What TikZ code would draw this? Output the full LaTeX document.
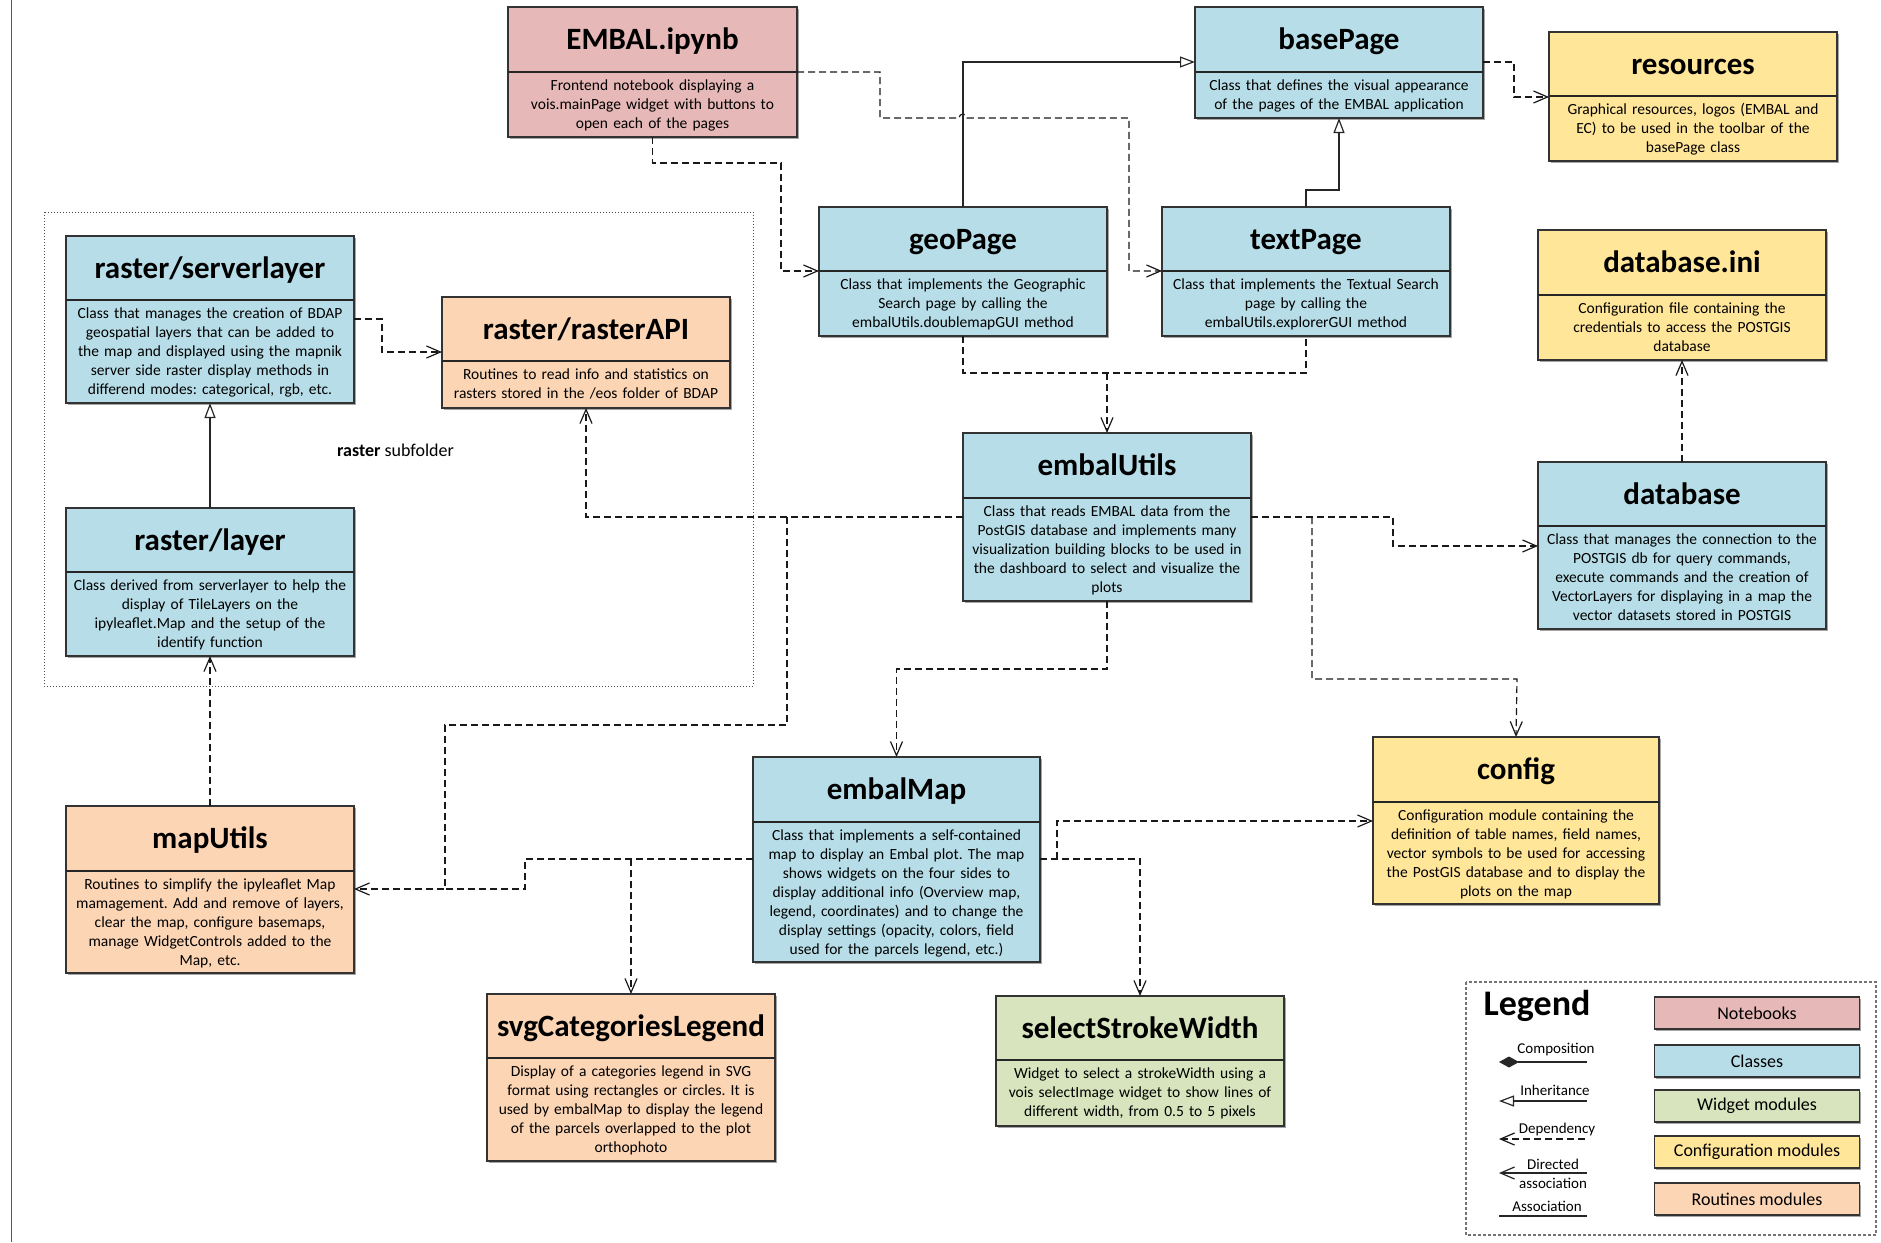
\documentclass[tikz,border=0pt]{standalone}
\usepackage{fontspec}
\setmainfont{Carlito}
\frenchspacing
\usetikzlibrary{arrows.meta,shadows}
\definecolor{cnote}{HTML}{E6B8B7}
\definecolor{cclass}{HTML}{B7DEE8}
\definecolor{cwidget}{HTML}{D7E4BD}
\definecolor{cconf}{HTML}{FFE699}
\definecolor{croute}{HTML}{FCD5B5}
\tikzset{
  ubox/.style={draw=black!80, line width=1.2pt, inner sep=0pt, outer sep=0pt,
    general shadow={fill=black!35, shadow xshift=1.5pt, shadow yshift=-1.5pt}},
  udiv/.style={draw=black!85, line width=1.6pt},
  utitle/.style={font=\fontsize{31}{36}\selectfont\bfseries, inner sep=0pt, anchor=base},
  ubody/.style={font=\fontsize{15.5}{19}\selectfont, align=center, inner sep=0pt, text width=330pt},
  depline/.style={draw=black!90, line width=1.2pt, dash pattern=on 7pt off 4pt},
  dep/.style={depline, -{Straight Barb[length=14pt,width=12pt,line width=1.2pt]}},
  inh/.style={draw=black!85, line width=1.2pt, -{Triangle[open,fill=white,length=15pt,width=11pt,line width=1.2pt]}},
  lgbox/.style={draw=black!80, line width=1.2pt, minimum width=205pt, minimum height=32pt, inner sep=0pt,
    font=\fontsize{18}{20}\selectfont,
    general shadow={fill=black!35, shadow xshift=1.5pt, shadow yshift=-1.5pt}},
  lglab/.style={font=\fontsize{15}{16}\selectfont, inner sep=0pt},
  lgline/.style={draw=black!85, line width=1.2pt},
}
\newcommand{\umlbox}[9]{%
  \node[ubox, fill=#7, minimum width={(#4-#2)*1pt}, minimum height={(#5-#3)*1pt}, anchor=north west] (#1) at (#2,#3) {};
  \draw[udiv] (#1.west |- 0,#6) -- (#1.east |- 0,#6);
  \node[utitle] (#1-title) at ({(#2+#4)/2},{(#3+#6)/2+10}) {#8};
  \node[ubody, anchor=base] (#1-body) at ({(#2+#4)/2},{#6+18}) {#9};
}
\begin{document}
\begin{tikzpicture}[x=1pt,y=-1pt]
\useasboundingbox (0,0) rectangle (1881,1242);
\draw[black!65, line width=1pt] (11,0) -- (11,1242);
% raster subfolder frame
\draw[black!70, line width=1pt, dotted] (44,212) rectangle (753,686);
\node[font=\fontsize{18}{20}\selectfont, inner sep=0pt, anchor=west] (rsub) at (337,450) {\textbf{raster} subfolder};

\umlbox{embal}{508}{7}{797}{137}{72}{cnote}{EMBAL.ipynb}{Frontend notebook displaying a\\vois.mainPage widget with buttons to\\open each of the pages}
\umlbox{base}{1195}{7}{1483}{118}{72}{cclass}{basePage}{Class that defines the visual appearance\\of the pages of the EMBAL application}
\umlbox{res}{1549}{32}{1837}{161}{96}{cconf}{resources}{Graphical resources, logos (EMBAL and\\EC) to be used in the toolbar of the\\basePage class}
\umlbox{geo}{819}{207}{1107}{336}{271}{cclass}{geoPage}{Class that implements the Geographic\\Search page by calling the\\embalUtils.doublemapGUI method}
\umlbox{text}{1162}{207}{1450}{336}{271}{cclass}{textPage}{Class that implements the Textual Search\\page by calling the\\embalUtils.explorerGUI method}
\umlbox{dbini}{1538}{230}{1826}{360}{295}{cconf}{database.ini}{Configuration file containing the\\credentials to access the POSTGIS\\database}
\umlbox{rs}{66}{236}{354}{403}{300}{cclass}{raster/serverlayer}{Class that manages the creation of BDAP\\geospatial layers that can be added to\\the map and displayed using the mapnik\\server side raster display methods in\\differend modes: categorical, rgb, etc.}
\umlbox{api}{442}{297}{730}{408}{361}{croute}{raster/rasterAPI}{Routines to read info and statistics on\\rasters stored in the /eos folder of BDAP}
\umlbox{rl}{66}{508}{354}{656}{572}{cclass}{raster/layer}{Class derived from serverlayer to help the\\display of TileLayers on the\\ipyleaflet.Map and the setup of the\\identify function}
\umlbox{eu}{963}{433}{1251}{601}{498}{cclass}{embalUtils}{Class that reads EMBAL data from the\\PostGIS database and implements many\\visualization building blocks to be used in\\the dashboard to select and visualize the\\plots}
\umlbox{db}{1538}{462}{1826}{629}{526}{cclass}{database}{Class that manages the connection to the\\POSTGIS db for query commands,\\execute commands and the creation of\\VectorLayers for displaying in a map the\\vector datasets stored in POSTGIS}
\umlbox{conf}{1373}{737}{1659}{904}{802}{cconf}{config}{Configuration module containing the\\definition of table names, field names,\\vector symbols to be used for accessing\\the PostGIS database and to display the\\plots on the map}
\umlbox{em}{753}{757}{1040}{962}{822}{cclass}{embalMap}{Class that implements a self-contained\\map to display an Embal plot. The map\\shows widgets on the four sides to\\display additional info (Overview map,\\legend, coordinates) and to change the\\display settings (opacity, colors, field\\used for the parcels legend, etc.)}
\umlbox{mu}{66}{806}{354}{973}{871}{croute}{mapUtils}{Routines to simplify the ipyleaflet Map\\mamagement. Add and remove of layers,\\clear the map, configure basemaps,\\manage WidgetControls added to the\\Map, etc.}
\umlbox{svg}{487}{994}{775}{1161}{1058}{croute}{svgCategoriesLegend}{Display of a categories legend in SVG\\format using rectangles or circles. It is\\used by embalMap to display the legend\\of the parcels overlapped to the plot\\orthophoto}
\umlbox{ssw}{996}{996}{1284}{1126}{1060}{cwidget}{selectStrokeWidth}{Widget to select a strokeWidth using a\\vois selectImage widget to show lines of\\different width, from 0.5 to 5 pixels}

% connectors
\draw[dep] (embal.south) |- (781,163) |- (geo.west |- 0,271);
\draw[dep] (embal.east |- 0,72) -| (880,118) -- (959,118) arc[start angle=180,end angle=360,radius=4] -- (1129,118) |- (text.west |- 0,271);
\draw[inh] (geo.north) |- (base.west |- 0,62);
\draw[inh] (text.north) |- (base.south |- 0,190) -- (base.south);
\draw[dep] (base.east |- 0,62) -| (1514,97) -- (res.west |- 0,97);
\draw[depline] (geo.south) |- (text.south |- 0,373) -- (text.south);
\draw[dep] (eu.north |- 0,373) -- (eu.north);
\draw[dep] (db.north) -- (dbini.south);
\draw[dep] (eu.east |- 0,517) -| (1393,546) -- (db.west |- 0,546);
\coordinate (j1) at (1312,517);
\draw[dep] (j1) |- (1517,679) -- (conf.north);
\draw[dep] (eu.west |- 0,517) -| (api.south);
\coordinate (j2) at (787,517);
\draw[dep] (j2) |- (445,725) |- (mu.east |- 0,889);
\draw[depline] (em.west |- 0,859) -| (525,889) -- (445,889);
\draw[dep] (eu.south) |- (em.north |- 0,669) -- (em.north);
\coordinate (j3) at (631,859);
\draw[dep] (j3) -- (svg.north);
\draw[dep] (em.east |- 0,859) -| (ssw.north);
\coordinate (j4) at (1057,859);
\draw[dep] (j4) |- (conf.west |- 0,821);
\draw[inh] (rl.north) -- (rs.south);
\draw[dep] (mu.north) -- (rl.south);
\draw[dep] (rs.east |- 0,319) -| (382,352) -- (api.west |- 0,352);

% legend
\draw[black!55, line width=1.2pt, dash pattern=on 3pt off 2pt] (1466,982) rectangle (1876,1235);
\node[font=\fontsize{36}{40}\selectfont\bfseries, inner sep=0pt] (lgt) at (1537,1006) {Legend};
\node[lgbox, fill=cnote] (lg1) at (1757,1013) {Notebooks};
\node[lgbox, fill=cclass] (lg2) at (1757,1061) {Classes};
\node[lgbox, fill=cwidget] (lg3) at (1757,1106) {Widget modules};
\node[lgbox, fill=cconf] (lg4) at (1757,1152) {Configuration modules};
\node[lgbox, fill=croute] (lg5) at (1757,1199) {Routines modules};

\coordinate (la1) at (1499,1062); \coordinate (lb1) at (1587,1062);
\draw[lgline, {Diamond[length=20pt,width=11pt]}-] (la1) -- (lb1);
\node[lglab] (ll1) at (1556,1050) {Composition};
\coordinate (la2) at (1499,1101); \coordinate (lb2) at (1587,1101);
\draw[lgline, {Triangle[open,fill=white,length=15pt,width=11pt,line width=1.2pt]}-] (la2) -- (lb2);
\node[lglab] (ll2) at (1555,1090) {Inheritance};
\coordinate (la3) at (1499,1139); \coordinate (lb3) at (1587,1139);
\draw[depline, {Straight Barb[length=14pt,width=12pt,line width=1.2pt]}-] (la3) -- (lb3);
\node[lglab] (ll3) at (1557,1129) {Dependency};
\coordinate (la4) at (1499,1173); \coordinate (lb4) at (1587,1173);
\draw[lgline, {Straight Barb[length=14pt,width=12pt,line width=1.2pt]}-] (la4) -- (lb4);
\node[lglab] (ll4) at (1553,1164) {Directed};
\node[lglab] (ll4b) at (1553,1183) {association};
\coordinate (la5) at (1499,1216); \coordinate (lb5) at (1587,1216);
\draw[lgline] (la5) -- (lb5);
\node[lglab] (ll5) at (1547,1206) {Association};
\end{tikzpicture}
\end{document}
